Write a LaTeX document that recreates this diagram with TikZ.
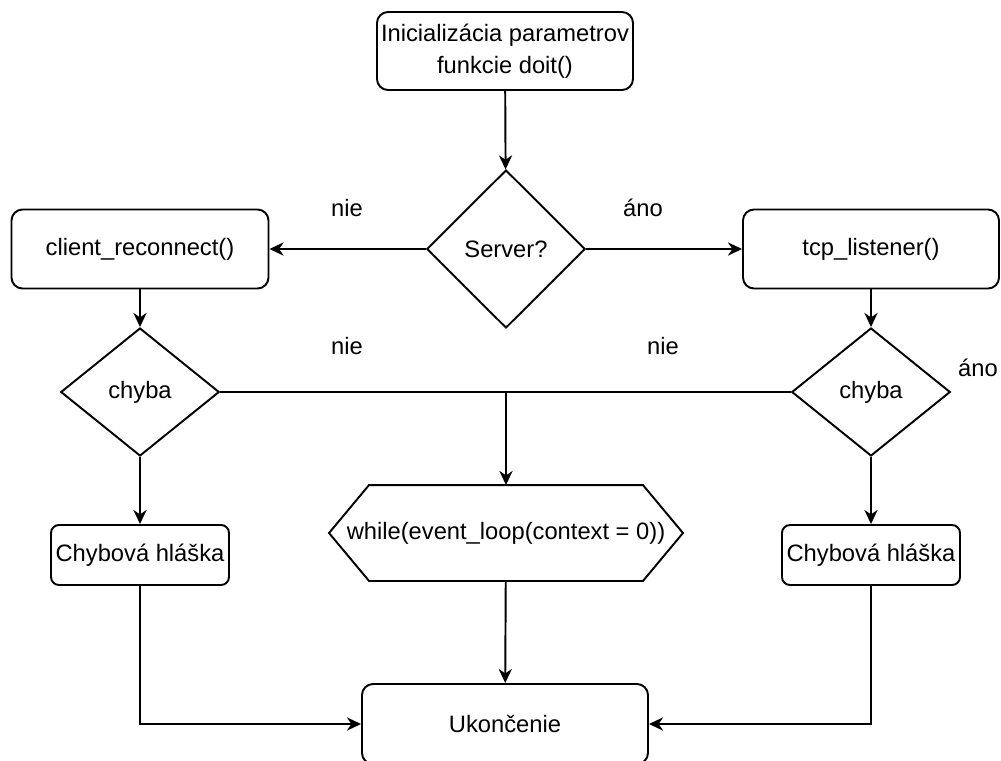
\documentclass[tikz,border=0pt]{standalone}
\usepackage{fontspec}
\setmainfont{Liberation Sans}
\usepackage{tikz}
\usetikzlibrary{shapes.geometric}
\usetikzlibrary{arrows.meta}
\usetikzlibrary{positioning}
\newcommand{\HLASKA}{Chybová hláška}

\begin{document}
\begin{tikzpicture}[
    font=\fontsize{13.5}{18}\selectfont,
    line width=1.1pt,
    box/.style={rounded corners=0.22cm, draw, align=center, inner sep=+0pt},
    dia/.style={diamond, draw, inner sep=+0pt, minimum width=3.17cm, minimum height=3.16cm},
    hexa/.style={rectangle, inner sep=+0pt},
    arr/.style={draw, -{Stealth[length=8pt, width=7.5pt, inset=2.5pt]}},
    lbl/.style={anchor=base, inner sep=+0pt}
]
\useasboundingbox (0,0) rectangle (20.02,-15.20);
\node[box, minimum width=5.12cm, minimum height=1.56cm] (init) at (10.10,-1.02) {Inicializácia parametrov\\funkcie doit()};
\node[dia] (srv) at (10.12,-4.98) {Server?};
\node[box, minimum width=5.14cm, minimum height=1.58cm] (cli) at (2.80,-4.98) {client\_reconnect()};
\node[box, minimum width=5.12cm, minimum height=1.58cm] (tcp) at (17.42,-4.98) {tcp\_listener()};
\node[dia, minimum height=2.56cm] (chL) at (2.80,-7.84) {chyba};
\node[dia, minimum height=2.56cm] (chR) at (17.42,-7.84) {chyba};
\node[hexa, minimum width=7.04cm, minimum height=1.88cm] (loop) at (10.12,-10.66) {while(event\_loop(context = 0))};
\node[box, rounded corners=0.16cm, minimum width=3.56cm, minimum height=1.20cm] (hlL) at (2.80,-11.10) {\HLASKA};
\node[box, rounded corners=0.16cm, minimum width=3.56cm, minimum height=1.20cm] (hlR) at (17.42,-11.10) {\HLASKA};
\node[box, minimum width=5.72cm, minimum height=1.60cm] (end) at (10.10,-14.48) {Ukončenie};
\coordinate (split) at (loop.north |- chL.east);

% hexagon outline of the loop
\draw (loop.west) -- ([xshift=0.8cm]loop.north west) -- ([xshift=-0.8cm]loop.north east)
  -- (loop.east) -- ([xshift=-0.8cm]loop.south east) -- ([xshift=0.8cm]loop.south west) -- cycle;

% labels
\node[lbl] (l1) at (6.94,-4.32) {nie};
\node[lbl] (l2) at (12.86,-4.32) {áno};
\node[lbl] (l3) at (6.94,-7.08) {nie};
\node[lbl] (l4) at (13.26,-7.08) {nie};
\node[lbl] (l5) at (19.56,-7.52) {áno};

\draw[arr] (init) -- (srv);
\draw[arr] (srv) -- (cli);
\draw[arr] (srv) -- (tcp);
\draw[arr] (cli) -- (chL);
\draw[arr] (tcp) -- (chR);
\draw (chL.east) -- (chR.west);
\draw[arr] (split) -- (loop.north);
\draw[arr] (chL) -- (hlL);
\draw[arr] (chR) -- (hlR);
\draw[arr] (loop) -- (end);
\draw[arr] (hlL.south) |- (end.west);
\draw[arr] (hlR.south) |- (end.east);
\end{tikzpicture}
\end{document}
